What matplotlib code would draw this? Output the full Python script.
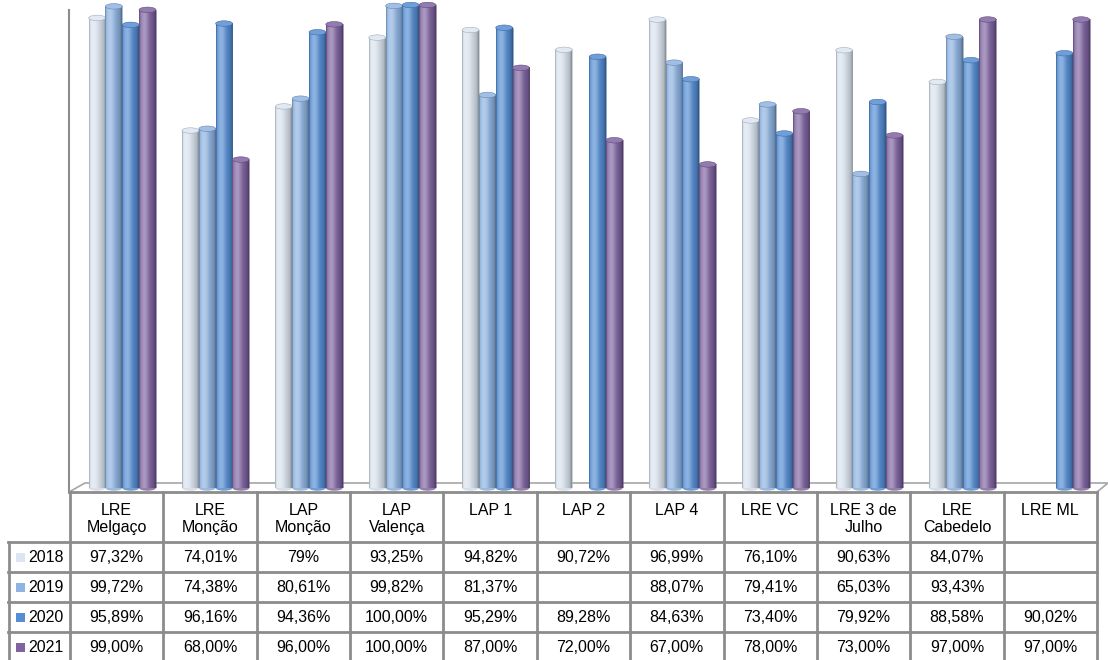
import numpy as np
import matplotlib
matplotlib.use("Agg")
import matplotlib.pyplot as plt
from matplotlib.patches import Ellipse, Rectangle
from matplotlib.colors import to_rgb

# data
categories = ["LRE\nMelgaço", "LRE\nMonção", "LAP\nMonção", "LAP\nValença", "LAP 1", "LAP 2",
              "LAP 4", "LRE VC", "LRE 3 de\nJulho", "LRE\nCabedelo", "LRE ML"]
years = ["2018", "2019", "2020", "2021"]
v2018 = [97.32, 74.01, 79.00, 93.25, 94.82, 90.72, 96.99, 76.10, 90.63, 84.07, np.nan]
v2019 = [99.72, 74.38, 80.61, 99.82, 81.37, np.nan, 88.07, 79.41, 65.03, 93.43, np.nan]
v2020 = [95.89, 96.16, 94.36, 100.00, 95.29, 89.28, 84.63, 73.40, 79.92, 88.58, 90.02]
v2021 = [99.00, 68.00, 96.00, 100.00, 87.00, 72.00, 67.00, 78.00, 73.00, 97.00, 97.00]
labels2018 = ["97,32%", "74,01%", "79%", "93,25%", "94,82%", "90,72%", "96,99%", "76,10%", "90,63%", "84,07%", ""]
labels2019 = ["99,72%", "74,38%", "80,61%", "99,82%", "81,37%", "", "88,07%", "79,41%", "65,03%", "93,43%", ""]
labels2020 = ["95,89%", "96,16%", "94,36%", "100,00%", "95,29%", "89,28%", "84,63%", "73,40%", "79,92%", "88,58%", "90,02%"]
labels2021 = ["99,00%", "68,00%", "96,00%", "100,00%", "87,00%", "72,00%", "67,00%", "78,00%", "73,00%", "97,00%", "97,00%"]

series = [v2018, v2019, v2020, v2021]
table_labels = [labels2018, labels2019, labels2020, labels2021]
colors = ["#DCE6F2", "#8EB4E3", "#558ED5", "#8064A2"]

FONT = ["Liberation Sans Narrow", "Liberation Sans", "DejaVu Sans"]
FS = 11.5
W, H = 1108, 660
GRID = "#8c8c8c"

fig = plt.figure(figsize=(W / 100, H / 100), dpi=100)

# overlay in pixel coords for the floor and the data table
over = fig.add_axes([0, 0, 1, 1], zorder=0)
over.set_xlim(0, W)
over.set_ylim(H, 0)
over.axis("off")

ax = fig.add_axes([70 / W, (H - 488) / H, (1097 - 70) / W, (488 - 5) / H], zorder=1)
ax.patch.set_alpha(0)
ax.axis("off")


def cyl_gradient(color, n=64):
    base = np.array(to_rgb(color))
    t = np.linspace(0, 1, n)
    light = 0.35 * np.exp(-((t - 0.32) / 0.25) ** 2)
    dark = 0.25 * t ** 2 + 0.2 * np.exp(-(t / 0.06) ** 2) + 0.15 * np.exp(-((1 - t) / 0.08) ** 2)
    rgb = base[None, :] * (1 - dark[:, None])
    rgb = rgb + (1 - rgb) * light[:, None]
    return np.clip(rgb, 0, 1)[None, :, :]


bw = 0.18
shift = 0.06
px_per_unit = 483 / 100
cap_h = 5.5 / px_per_unit
for j, vals in enumerate(series):
    grad = cyl_gradient(colors[j])
    edge = tuple(np.array(to_rgb(colors[j])) * 0.75)
    for i, v in enumerate(vals):
        if np.isnan(v):
            continue
        x0 = i + 0.5 + shift + (j - 2) * bw
        ax.imshow(grad, extent=(x0, x0 + bw, 0, v), aspect="auto", zorder=2 + j, interpolation="bilinear")
        ax.add_patch(Rectangle((x0, 0), bw, v, fill=False, edgecolor=edge, linewidth=0.4, zorder=2 + j))
        capc = np.array(to_rgb(colors[j]))
        capc = capc + (1 - capc) * 0.15
        ax.add_patch(Ellipse((x0 + bw / 2, v), bw, cap_h, facecolor=capc, edgecolor=edge,
                             linewidth=0.4, zorder=2 + j, clip_on=False))
        ax.add_patch(Ellipse((x0 + bw / 2, 0), bw, cap_h, facecolor=grad[0, 32], edgecolor="none",
                             zorder=1.9 + j, clip_on=False))
ax.set_xlim(0, len(categories))
ax.set_ylim(0, 100)

# wall / floor
over.plot([69, 69], [10, 492], color=GRID, lw=1.5)
over.plot([69, 85, 1108, 1097], [492, 483, 483, 492], color="#a6a6a6", lw=1.2)

# data table
left, right = 70, 1097
cw = (right - left) / len(categories)
rows_y = [492, 542, 572, 602, 632, 662]
over.plot([69, right], [492, 492], color=GRID, lw=2)
for k in range(len(categories) + 1):
    x = left + k * cw
    over.plot([x, x], [492, H], color=GRID, lw=2)
for y in rows_y[1:5]:
    over.plot([8, right], [y, y], color=GRID, lw=2)
over.plot([8.5, 8.5], [542, H], color=GRID, lw=2)

for i, cat in enumerate(categories):
    cx = left + (i + 0.5) * cw
    over.text(cx, 503, cat, ha="center", va="top", fontsize=FS, family=FONT, linespacing=1.15)
    for r, labs in enumerate(table_labels):
        cy = (rows_y[r + 1] + rows_y[r + 2]) / 2
        over.text(cx, cy, labs[i], ha="center", va="center", fontsize=FS, family=FONT)

for r, yr in enumerate(years):
    cy = (rows_y[r + 1] + rows_y[r + 2]) / 2
    over.add_patch(Rectangle((16, cy - 4.5), 9, 9, facecolor=colors[r], edgecolor="none"))
    over.text(28, cy, yr, ha="left", va="center", fontsize=FS, family=FONT)

fig.savefig("out.png", dpi=100)
